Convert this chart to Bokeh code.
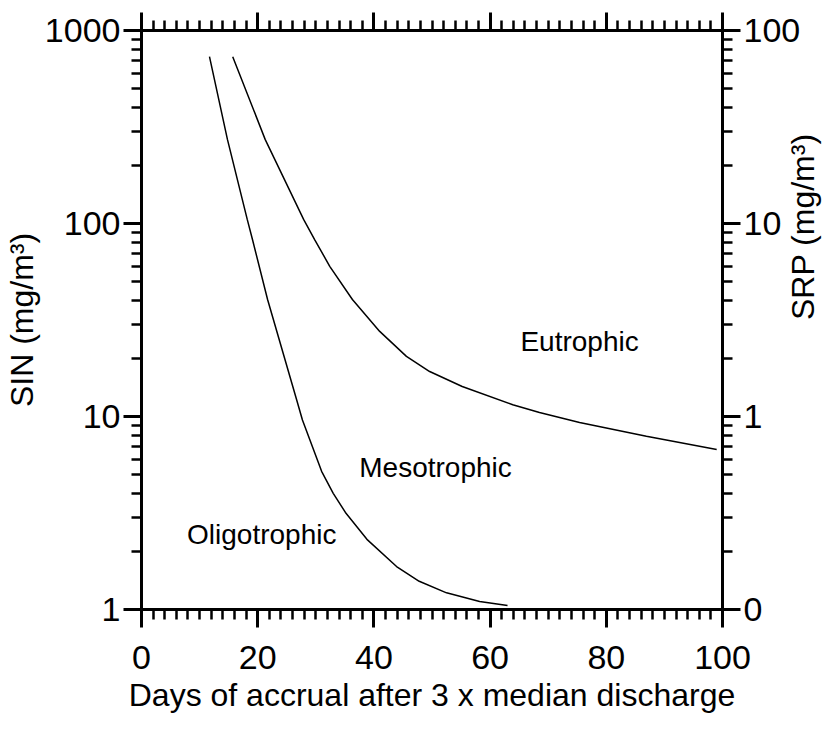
import math
from bokeh.plotting import figure
from bokeh.models import (Range1d, LinearAxis, LogAxis, FixedTicker, ColumnDataSource,
                          Grid, CustomLabelingPolicy)
from bokeh.core.properties import value
from bokeh.embed import file_html
from bokeh.resources import INLINE

FONT = "Liberation Sans"

# Oligotrophic / Mesotrophic boundary
boundary1_days = [11.7, 14.8, 18.2, 19.1, 21.7, 26.7, 27.7, 31.0, 33.0, 35.2, 38.8, 43.9, 47.8, 52.5, 58.2, 63.0]
boundary1_sin = [732, 272, 105, 82.6, 40.4, 12.2, 9.6, 5.2, 4.0, 3.15, 2.31, 1.67, 1.40, 1.22, 1.10, 1.05]

# Mesotrophic / Eutrophic boundary
boundary2_days = [15.7, 21.3, 27.9, 29.8, 32.4, 36.3, 41.0, 45.6, 49.6, 55.2, 63.9, 68.5, 75.4, 86.9, 99.0]
boundary2_sin = [732, 272, 105, 82.6, 60.0, 40.4, 27.6, 20.5, 17.1, 14.3, 11.5, 10.5, 9.3, 7.9, 6.75]

region_names = ["Oligotrophic", "Mesotrophic", "Eutrophic"]
region_days = [20.7, 50.6, 75.4]
region_sin = [2.45, 5.45, 24.5]

x_ticks = [0, 20, 40, 60, 80, 100]
x_minor = list(range(0, 101, 2))
sin_ticks = [1, 10, 100, 1000]
sin_tick_labels = ["1", "10", "100", "1000"]
srp_tick_labels = ["0", "1", "10", "100"]
sin_minor = [m * 10 ** k for k in range(3) for m in range(2, 10)]

p = figure(frame_width=581, frame_height=579,
           x_range=Range1d(0, 100), y_range=Range1d(1, 1000),
           y_axis_type="log", x_axis_location=None, y_axis_location=None,
           output_backend="svg", toolbar_location=None,
           min_border_left=134, min_border_top=30,
           min_border_right=0, min_border_bottom=0)
p.outline_line_color = None
p.background_fill_color = "white"
p.border_fill_color = "white"


def style(ax, label_size="34px"):
    ax.axis_line_width = 3
    ax.axis_line_color = "black"
    ax.major_tick_line_width = 3
    ax.minor_tick_line_width = 2.5
    ax.major_tick_line_color = "black"
    ax.minor_tick_line_color = "black"
    ax.major_tick_out = 18
    ax.major_tick_in = 0
    ax.minor_tick_out = 10
    ax.minor_tick_in = 0
    ax.major_label_text_font = FONT
    ax.major_label_text_font_size = label_size
    ax.major_label_text_color = "black"
    ax.axis_label_text_font = FONT
    ax.axis_label_text_font_size = "32px"
    ax.axis_label_text_font_style = "normal"
    ax.axis_label_text_color = "black"


bottom = LinearAxis(ticker=FixedTicker(ticks=x_ticks, minor_ticks=x_minor),
                    axis_label="Days of accrual after 3 x median discharge")
style(bottom)
bottom.major_label_standoff = 18
bottom.axis_label_standoff = 5
p.add_layout(bottom, "below")

# top axis: ticks only, no labels
top = LinearAxis(ticker=FixedTicker(ticks=x_ticks, minor_ticks=x_minor))
style(top, "0px")
top.major_label_standoff = 0
top.major_label_policy = CustomLabelingPolicy(
    code="for (let i = 0; i < indices.size; i++) { indices.unset(i) } return indices")
p.add_layout(top, "above")

left = LogAxis(ticker=FixedTicker(ticks=sin_ticks, minor_ticks=sin_minor),
               axis_label="SIN (mg/m³)",
               major_label_overrides={t: s for t, s in zip(sin_ticks, sin_tick_labels)})
style(left)
left.major_label_standoff = 3
left.axis_label_standoff = 2
p.add_layout(left, "left")

right = LogAxis(ticker=FixedTicker(ticks=sin_ticks, minor_ticks=sin_minor),
                axis_label="SRP (mg/m³)",
                major_label_overrides={t: s for t, s in zip(sin_ticks, srp_tick_labels)})
style(right)
right.major_label_standoff = 3
right.axis_label_standoff = 0
right.axis_label_orientation = math.pi / 2
p.add_layout(right, "right")

p.center = [r for r in p.center if not isinstance(r, Grid)]

p.line(boundary1_days, boundary1_sin, line_color="black", line_width=1.5)
p.line(boundary2_days, boundary2_sin, line_color="black", line_width=1.5)

src = ColumnDataSource(dict(x=region_days, y=region_sin, t=region_names))
p.text(x="x", y="y", text="t", source=src, text_font=value(FONT),
       text_font_size="28px", text_color="black",
       text_align="center", text_baseline="middle")

open("out.html", "w").write(file_html(p, INLINE))
